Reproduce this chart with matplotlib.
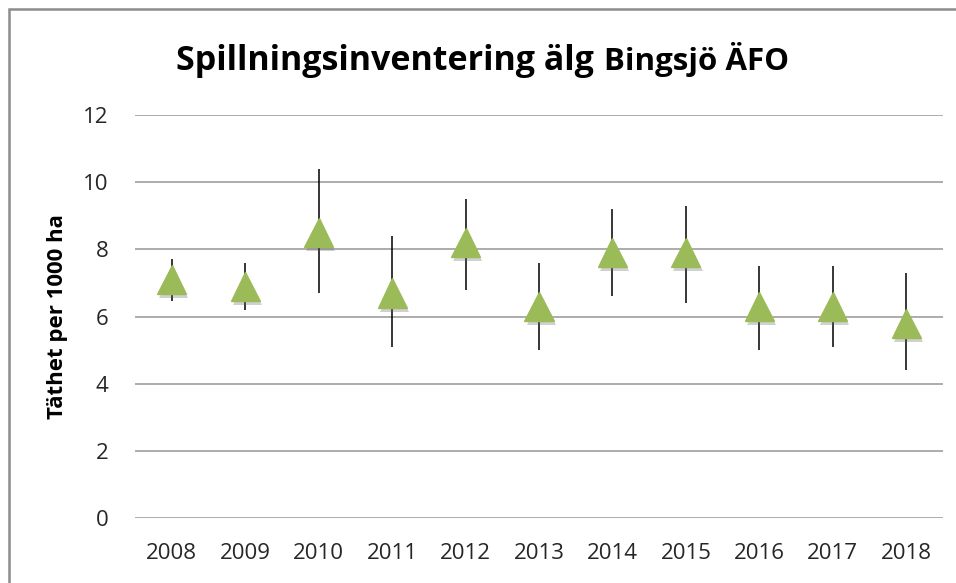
#!/usr/bin/env python3
"""
Spillningsinventering älg, Bingsjö ÄFO - density per year with error bars
"""

import matplotlib
matplotlib.use('Agg')
import matplotlib.pyplot as plt
import matplotlib.patheffects as pe
from matplotlib.patches import Rectangle
import numpy as np

# Data
years = ['2008', '2009', '2010', '2011', '2012', '2013',
         '2014', '2015', '2016', '2017', '2018']
density = [7.1, 6.9, 8.5, 6.7, 8.2, 6.3, 7.9, 7.9, 6.3, 6.3, 5.8]
upper = [7.7, 7.6, 10.4, 8.4, 9.5, 7.6, 9.2, 9.3, 7.5, 7.5, 7.3]
lower = [6.45, 6.2, 6.7, 5.1, 6.8, 5.0, 6.6, 6.4, 5.0, 5.1, 4.4]
y_ticks = [0, 2, 4, 6, 8, 10, 12]

plt.rcParams['font.family'] = ['Open Sans', 'DejaVu Sans']

W, H, DPI = 956, 583, 100
fig = plt.figure(figsize=(W / DPI, H / DPI), dpi=DPI, facecolor='white')

# Axes placed in pixel terms
left, right, top, bottom = 135, 943, 115, 518
ax = fig.add_axes([left / W, 1 - bottom / H, (right - left) / W, (bottom - top) / H])

x = np.arange(len(years))
dens = np.array(density)
err = [dens - np.array(lower), np.array(upper) - dens]

# Error bars (behind markers)
ax.errorbar(x, dens, yerr=err, fmt='none', ecolor='black', elinewidth=1.1,
            capsize=0, zorder=2)

# Green triangle markers with a soft shadow
ax.plot(x, dens, linestyle='none', marker='^', markersize=21,
        markerfacecolor='#9BBB59', markeredgecolor='#9BBB59', zorder=3,
        path_effects=[pe.SimplePatchShadow(offset=(1.5, -3), shadow_rgbFace='#666666', alpha=0.3),
                      pe.Normal()])

ax.set_xlim(-0.5, len(years) - 0.5)
ax.set_ylim(0, 12)
ax.set_yticks(y_ticks)
ax.set_yticklabels([str(v) for v in y_ticks], fontsize=16, color='#262626')
ax.set_xticks(x)
ax.set_xticklabels(years, fontsize=16, color='#262626')
ax.tick_params(axis='both', length=0)
ax.tick_params(axis='y', pad=19)
ax.tick_params(axis='x', pad=18)

ax.grid(axis='y', color='#A6A6A6', linewidth=1.3)
ax.set_axisbelow(True)
for s in ax.spines.values():
    s.set_visible(False)

# Y-axis label
fig.text(58 / W, 1 - 317 / H, 'Täthet per 1000 ha', rotation=90, ha='center', va='center',
         fontsize=16, fontweight='bold', color='black')

# Title in two sizes
t1 = fig.text(176 / W, 1 - 70 / H, 'Spillningsinventering älg', ha='left', va='baseline',
              fontsize=24.5, fontweight='bold', color='black')
fig.canvas.draw()
bb = t1.get_window_extent()
fig.text((bb.x1 + 10) / W, 1 - 70 / H, 'Bingsjö ÄFO', ha='left', va='baseline',
         fontsize=22.5, fontweight='bold', color='black')

# Chart area border (cut off on right and bottom like the reference)
fig.patches.append(Rectangle((9 / W, -0.1), 1.2, 1.1 - 9 / H, transform=fig.transFigure,
                             fill=False, edgecolor='#8C8C8C', linewidth=1.8, clip_on=False))

plt.savefig('out.png', dpi=DPI, facecolor='white')
plt.close()
